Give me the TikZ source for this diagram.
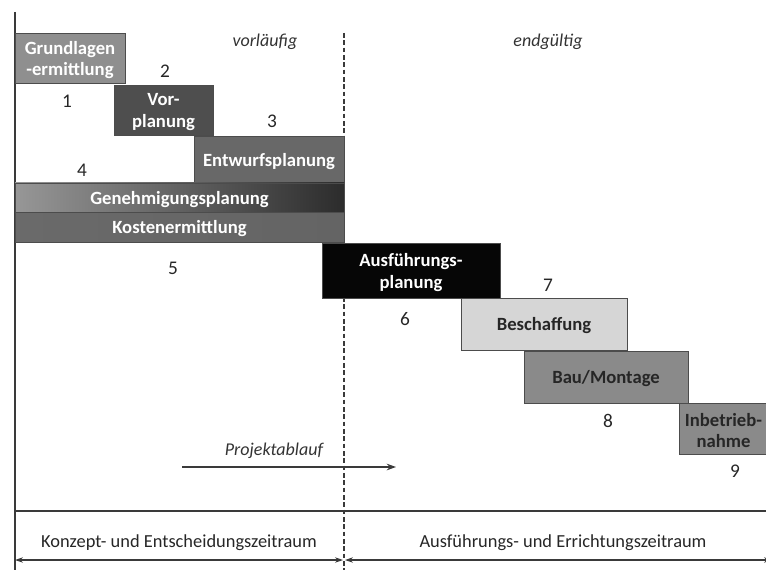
\documentclass[tikz,border=0pt]{standalone}
\usepackage{fontspec}
\setmainfont{Carlito}
\usetikzlibrary{arrows.meta,fit}
\definecolor{axis}{HTML}{3A3A3A}
\definecolor{cGrund}{HTML}{8F8F8F}
\definecolor{cVor}{HTML}{4E4E4E}
\definecolor{cEntw}{HTML}{686868}
\definecolor{cGenL}{HTML}{979797}
\definecolor{cGenR}{HTML}{2C2C2C}
\definecolor{cKostL}{HTML}{6A6A6A}
\definecolor{cKostM}{HTML}{787878}
\definecolor{cKostR}{HTML}{646464}
\definecolor{cAusf}{HTML}{060606}
\definecolor{cBesch}{HTML}{D6D6D6}
\definecolor{cBau}{HTML}{8A8A8A}
\begin{document}
\begin{tikzpicture}[x=0.75pt,y=-0.75pt,
  phase/.style={draw=black!70, line width=0.7pt, inner sep=0pt},
  phasetext/.style={align=center, inner sep=0pt, yshift=-1.5pt,
    font=\bfseries\fontsize{14}{16}\selectfont, text=white},
  darktext/.style={text=black!85},
  phasenum/.style={font=\fontsize{14.5}{16}\selectfont, text=black!85},
  notetext/.style={font=\itshape\fontsize{13.5}{16}\selectfont, text=black!80},
  spantext/.style={font=\fontsize{13.8}{16}\selectfont, text=black!85},
  axisline/.style={draw=axis, line width=0.8pt},
  divider/.style={draw=axis, line width=0.8pt, dash pattern=on 3.5pt off 2pt},
  flowarrow/.style={draw=axis, line width=1pt, -{Stealth[length=7pt,width=5pt]}},
  spanarrow/.style={draw=axis, line width=0.8pt, {Stealth[length=6pt,width=4pt]}-{Stealth[length=6pt,width=4pt]}}
]
\useasboundingbox (0,0) rectangle (766,570);

% frame lines
\coordinate (topL) at (15,12);
\coordinate (botL) at (15,572);
\coordinate (topD) at (344,33);
\coordinate (botD) at (344,572);
\coordinate (sepL) at (15,511);
\coordinate (sepR) at (768,511);
\draw[axisline] (topL) -- (botL);
\draw[divider] (topD) -- (botD);
\draw[axisline] (sepL) -- (sepR);

% headings
\node[notetext] (vorl) at (265,42) {vorläufig};
\node[notetext] (endg) at (548,42) {endgültig};

% phases
\node[phase, fill=cGrund, fit={(15,33) (125,83)},
  label={[phasetext]center:Grundlagen\\-ermittlung}] (p1) {};
\node[phase, fill=cVor, fit={(114,85) (213,135)},
  label={[phasetext]center:Vor-\\planung}] (p2) {};
\node[phase, fill=cEntw, fit={(194,136) (344,183)},
  label={[phasetext]center:Entwurfsplanung}] (p3) {};
\node[phase, left color=cGenL, right color=cGenR, fit={(15,183) (344,212)},
  label={[phasetext]center:Genehmigungsplanung}] (p4) {};
\node[phase, left color=cKostL, middle color=cKostM, right color=cKostR, fit={(15,212) (344,242)},
  label={[phasetext]center:Kostenermittlung}] (p5) {};
\node[phase, fill=cAusf, fit={(322,243) (500,298)},
  label={[phasetext]center:Ausführungs-\\planung}] (p6) {};
\node[phase, fill=cBesch, fit={(461,298) (627,350)},
  label={[phasetext,darktext]center:Beschaffung}] (p7) {};
\node[phase, fill=cBau, fit={(524,351) (688,403)},
  label={[phasetext,darktext]center:Bau/Montage}] (p8) {};
\node[phase, fill=cBau, fit={(679,403) (768,454)},
  label={[phasetext,darktext]center:Inbetrieb-\\nahme}] (p9) {};

% phase numbers
\node[phasenum] (n1) at (67,101) {1};
\node[phasenum] (n2) at (165,71) {2};
\node[phasenum] (n3) at (272,121) {3};
\node[phasenum] (n4) at (82,170) {4};
\node[phasenum] (n5) at (173,268) {5};
\node[phasenum] (n6) at (405,319) {6};
\node[phasenum] (n7) at (548,285) {7};
\node[phasenum] (n8) at (608,421) {8};
\node[phasenum] (n9) at (735,471) {9};

% project flow
\node[notetext] (flow) at (274,451) {Projektablauf};
\coordinate (flowA) at (182,467);
\coordinate (flowB) at (396,467);
\draw[flowarrow] (flowA) -- (flowB);

% time spans
\node[spantext] (spanL) at (179,543) {Konzept- und Entscheidungszeitraum};
\node[spantext] (spanR) at (563,543) {Ausführungs- und Errichtungszeitraum};
\coordinate (rL1) at (15,560);
\coordinate (rL2) at (343,560);
\coordinate (rR1) at (345,560);
\coordinate (rR2) at (772,560);
\draw[spanarrow] (rL1) -- (rL2);
\draw[spanarrow] (rR1) -- (rR2);
\end{tikzpicture}
\end{document}
